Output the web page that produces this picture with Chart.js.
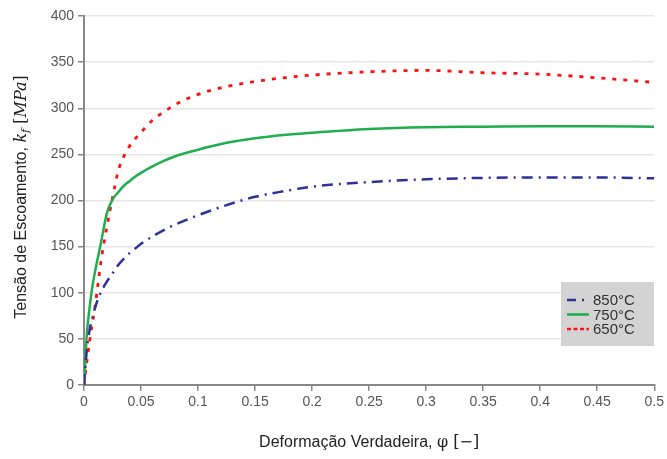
<!DOCTYPE html>
<html>
<head>
<meta charset="utf-8">
<script src="https://cdn.jsdelivr.net/npm/chart.js@4.4.1/dist/chart.umd.min.js"></script>
<style>
  html, body { margin: 0; padding: 0; background: #fff; }
  #wrap { width: 667px; height: 459px; }
</style>
</head>
<body>
<div id="wrap"><canvas id="chart" width="667" height="459"></canvas></div>
<script>
// deformação verdadeira (eixo x)
const strain = [0, 0.0025, 0.005, 0.0075, 0.01, 0.015, 0.02, 0.025, 0.03, 0.035, 0.04, 0.045, 0.05, 0.06, 0.07, 0.08, 0.1, 0.125, 0.15, 0.175, 0.2, 0.25, 0.3, 0.35, 0.4, 0.45, 0.5];
// tensão de escoamento [MPa]
const flow850 = [0, 38, 60, 73, 85, 101, 112, 121, 130, 137, 143, 148, 153, 161, 168, 174, 184, 195, 204, 210, 215, 220, 223, 224.5, 225, 225, 224];
const flow750 = [0, 55, 85, 108, 125, 155, 186, 201, 209, 216, 221, 226, 230, 237, 243, 248, 255, 262.5, 267.5, 271, 273.5, 277.5, 279.5, 280, 280.5, 280.5, 280];
const flow650 = [0, 25, 48, 68, 88, 135, 171, 203, 232, 248, 259, 267, 274, 287, 296, 304, 315, 323.5, 329, 333, 336, 339.5, 341, 338.5, 337, 333, 328];
const seriesLabels = ["850°C", "750°C", "650°C"];
const xMin = 0, xMax = 0.5, xStep = 0.05;
const yMin = 0, yMax = 400, yStep = 50;

const FONT = "'Liberation Sans', Arial, sans-serif";
const SERIF = "'DejaVu Serif', 'Liberation Serif', serif";

function toPoints(values) {
  return strain.map((x, i) => ({ x: x, y: values[i] }));
}

// legenda dentro do gráfico (caixa cinza)
const boxLegend = {
  id: "boxLegend",
  afterDatasetsDraw(chart) {
    const ctx = chart.ctx;
    const x0 = 561, y0 = 282, w = 93, h = 64;
    ctx.save();
    ctx.fillStyle = "#d3d3d3";
    ctx.fillRect(x0, y0, w, h);
    ctx.font = "15px " + FONT;
    ctx.textBaseline = "middle";
    chart.data.datasets.forEach((ds, i) => {
      const yy = y0 + 18 + i * 14.5;
      ctx.beginPath();
      ctx.strokeStyle = ds.borderColor;
      ctx.lineWidth = 2.5;
      ctx.setLineDash(ds.legendDash || []);
      ctx.moveTo(x0 + 6, yy);
      ctx.lineTo(x0 + 28, yy);
      ctx.stroke();
      ctx.setLineDash([]);
      ctx.fillStyle = "#333";
      ctx.fillText(ds.label, x0 + 32, yy + 1);
    });
    ctx.restore();
  }
};

// títulos dos eixos com partes em itálico
function drawParts(ctx, parts, cx, cy) {
  let total = 0;
  parts.forEach(p => { ctx.font = p.f; total += ctx.measureText(p.t).width; });
  let x = cx - total / 2;
  parts.forEach(p => {
    ctx.font = p.f;
    ctx.fillText(p.t, x, cy + (p.dy || 0));
    x += ctx.measureText(p.t).width;
  });
}

const axisTitles = {
  id: "axisTitles",
  afterDraw(chart) {
    const ctx = chart.ctx;
    const area = chart.chartArea;
    ctx.save();
    ctx.fillStyle = "#222";
    ctx.textBaseline = "middle";
    drawParts(ctx, [
      { t: "Deformação Verdadeira, ", f: "16px " + FONT },
      { t: "φ ", f: "16px " + SERIF },
      { t: "[−]", f: "16px " + SERIF }
    ], (area.left + area.right) / 2, 443);

    ctx.translate(22, 197);
    ctx.rotate(-Math.PI / 2);
    drawParts(ctx, [
      { t: "Tensão de Escoamento, ", f: "16px " + FONT },
      { t: "k", f: "italic 16px " + SERIF },
      { t: "f", f: "italic 11px " + SERIF, dy: 4 },
      { t: " [", f: "16px " + SERIF },
      { t: "MPa", f: "italic 16px " + SERIF },
      { t: "]", f: "16px " + SERIF }
    ], 0, 0);
    ctx.restore();
  }
};

const ctx = document.getElementById("chart").getContext("2d");
const chart = new Chart(ctx, {
  type: "line",
  data: {
    datasets: [
      {
        label: seriesLabels[0],
        data: toPoints(flow850),
        borderColor: "#2f3196",
        borderWidth: 2.5,
        borderDash: [11, 6, 2, 6],
        legendDash: [9, 6, 2, 5],
        pointRadius: 0,
        fill: false
      },
      {
        label: seriesLabels[1],
        data: toPoints(flow750),
        borderColor: "#1fae4e",
        borderWidth: 2.5,
        pointRadius: 0,
        fill: false
      },
      {
        label: seriesLabels[2],
        data: toPoints(flow650),
        borderColor: "#ff1010",
        borderWidth: 2.8,
        borderDash: [4, 7],
        legendDash: [4, 2.5],
        pointRadius: 0,
        fill: false
      }
    ]
  },
  options: {
    responsive: false,
    animation: false,
    cubicInterpolationMode: "monotone",
    layout: { padding: { top: 16, right: 8, left: 0, bottom: 0 } },
    plugins: {
      legend: { display: false },
      tooltip: { enabled: false }
    },
    scales: {
      x: {
        type: "linear",
        min: xMin,
        max: xMax,
        afterFit: s => { s.height = 74; },
        ticks: {
          stepSize: xStep,
          color: "#555",
          font: { family: FONT, size: 14 },
          padding: 3,
          maxRotation: 0,
          callback: v => String(Number(v.toFixed(2)))
        },
        grid: {
          drawOnChartArea: false,
          drawTicks: true,
          tickLength: 6,
          tickColor: "#888",
          lineWidth: 1.5
        },
        border: { display: true, color: "#888", width: 2 }
      },
      y: {
        min: yMin,
        max: yMax,
        afterFit: s => { s.width = 84; },
        ticks: {
          stepSize: yStep,
          color: "#555",
          font: { family: FONT, size: 14 },
          padding: 4
        },
        grid: {
          color: "#e6e6e6",
          lineWidth: 1.5,
          drawTicks: true,
          tickLength: 6,
          tickColor: "#888"
        },
        border: { display: true, color: "#888", width: 2 }
      }
    }
  },
  plugins: [boxLegend, axisTitles]
});
</script>
</body>
</html>
